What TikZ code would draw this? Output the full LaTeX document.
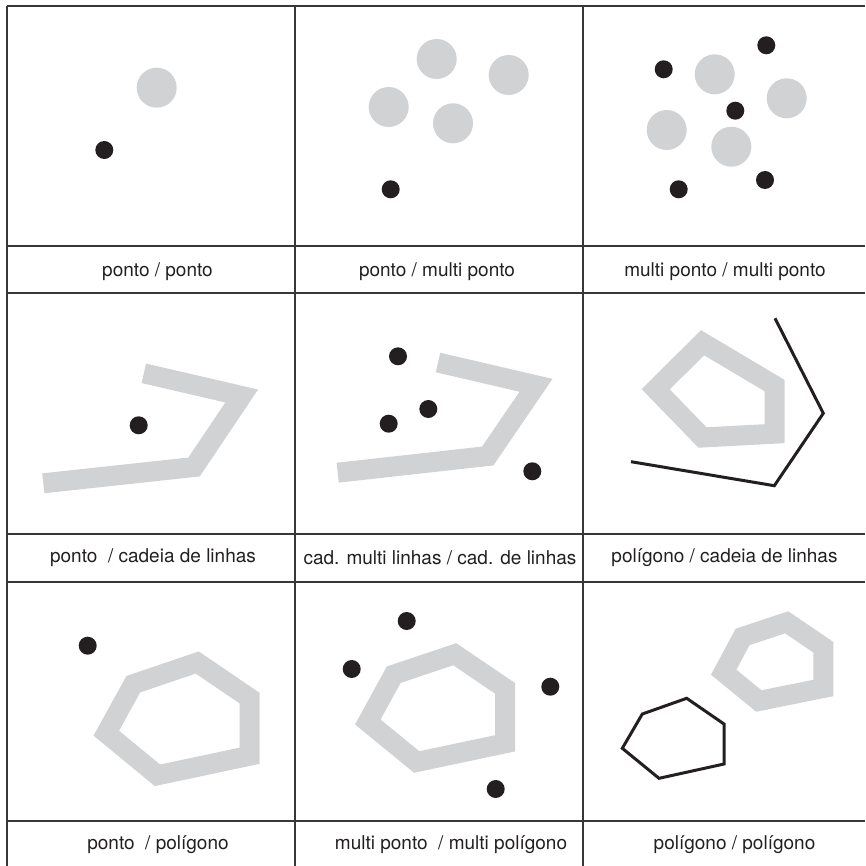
\documentclass[tikz,border=0pt]{standalone}
\usepackage{fontspec}
\setmainfont{TeX Gyre Heros}
\definecolor{shgray}{RGB}{209,210,212}
\definecolor{shblack}{RGB}{35,31,32}
\definecolor{shgrid}{RGB}{55,55,55}
\usetikzlibrary{positioning}

\begin{document}
\begin{tikzpicture}[x=1pt, y=-1pt,
    gridline/.style={shgrid, line width=1.4pt},
    band/.style={shgray, line width=20pt, line join=miter},
    thinline/.style={shblack, line width=3pt, line join=miter},
    blob/.style={fill=shgray},
    dot/.style={fill=shblack},
    lbl/.style={font=\fontsize{19}{22}\selectfont, text=shblack, inner sep=0pt}]
  \useasboundingbox (0,0) rectangle (865,866);

  % Grid
  \foreach \yy in {6,246,293,534,582,821}
    \draw[gridline] (7,\yy) -- (865,\yy);
  \foreach \xx in {7,295,583}
    \draw[gridline] (\xx,6) -- (\xx,866);

  % Row 1, left: ponto / ponto
  \fill[blob] (156.7,87.7) circle (20);
  \fill[dot] (104.3,150) circle (9);
  \node[lbl] (l11) at (157.5,272) {ponto / ponto};

  % Row 1, middle: ponto / multi ponto
  \fill[blob] (436.7,59) circle (20);
  \fill[blob] (508.7,75) circle (20);
  \fill[blob] (388.7,107) circle (20);
  \fill[blob] (453,123.3) circle (20);
  \fill[dot] (390.7,189.3) circle (9);
  \node[lbl] (l12) at (437,272) {ponto / multi ponto};

  % Row 1, right: multi ponto / multi ponto
  \fill[blob] (714.7,74.3) circle (20);
  \fill[blob] (786.7,98.3) circle (20);
  \fill[blob] (666.7,130) circle (20);
  \fill[blob] (731.3,146.7) circle (20);
  \fill[dot] (663.7,69.3) circle (9);
  \fill[dot] (766.3,45.3) circle (9);
  \fill[dot] (735.3,110.7) circle (9);
  \fill[dot] (678.7,189.3) circle (9);
  \fill[dot] (765,180) circle (9);
  \node[lbl] (l13) at (725,272) {multi ponto / multi ponto};

  % Row 2, left: ponto / cadeia de linhas
  \draw[band] (143.8,373.3) -- (241.7,396) -- (194,467) -- (43.3,483.3);
  \fill[dot] (138.7,425.3) circle (9);
  \node[lbl] (l21) at (153,558) {ponto\ \ / cadeia de linhas};

  % Row 2, middle: cad. multi linhas / cad. de linhas
  \draw[band] (438,362.5) -- (536,385.3) -- (487.7,456) -- (337.7,472.7);
  \fill[dot] (398,356.3) circle (9);
  \fill[dot] (428.3,409) circle (9);
  \fill[dot] (388.7,423.7) circle (9);
  \fill[dot] (532.3,471.3) circle (9);
  \node[lbl] (l22) at (440,558) {cad. multi linhas / cad. de linhas};

  % Row 2, right: polígono / cadeia de linhas
  \draw[band] (702.5,342.7) -- (774.5,385.5) -- (774.5,433.7) -- (702.5,437.5) -- (655.7,389.3) -- cycle;
  \draw[thinline] (775,318.3) -- (823.3,413.3) -- (774.3,485.7) -- (631,461.7);
  \node[lbl] (l23) at (724.5,558) {polígono / cadeia de linhas};

  % Row 3, left: ponto / polígono
  \draw[band] (197.2,662.5) -- (249.7,698.2) -- (249.7,755.7) -- (157.5,775.3) -- (106.3,733.2) -- (133.3,684.2) -- cycle;
  \fill[dot] (87.7,645.7) circle (9);
  \node[lbl] (l31) at (158,845) {ponto\ \ / polígono};

  % Row 3, middle: multi ponto / multi polígono
  \draw[band] (454.7,654.2) -- (505,688.3) -- (505,743.3) -- (416.7,762) -- (367.8,722) -- (393.7,674.7) -- cycle;
  \fill[dot] (406.7,621) circle (9);
  \fill[dot] (351.7,669) circle (9);
  \fill[dot] (550.3,686.7) circle (9);
  \fill[dot] (495.7,789) circle (9);
  \node[lbl] (l32) at (451,845) {multi ponto\ \ / multi polígono};

  % Row 3, right: polígono / polígono
  \draw[band] (786.7,622.3) -- (823.3,647.2) -- (823.3,688) -- (758.8,701) -- (723.7,672.2) -- (742.5,637) -- cycle;
  \draw[thinline] (686.7,698.3) -- (724,724) -- (724,764) -- (659,778.3) -- (622.3,748.3) -- (642.3,714) -- cycle;
  \node[lbl] (l33) at (734.5,845) {polígono / polígono};
\end{tikzpicture}
\end{document}
